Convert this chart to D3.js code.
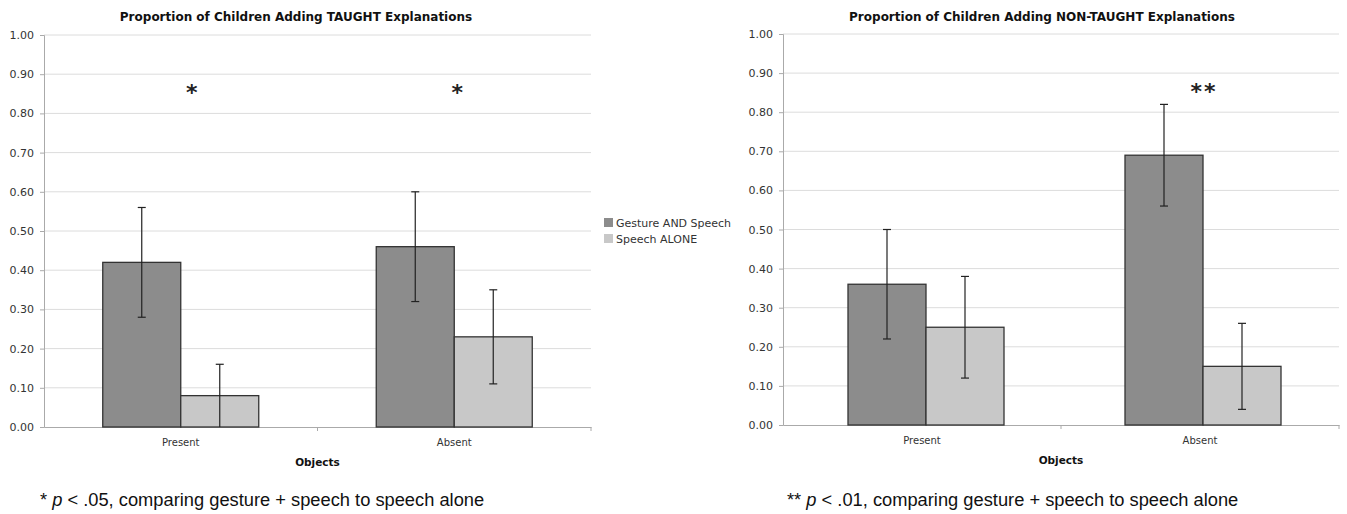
<!DOCTYPE html>
<html>
<head>
<meta charset="utf-8">
<script src="https://cdn.jsdelivr.net/npm/d3@7"></script>
<style>
  body { margin: 0; background: #fff; }
  svg { display: block; }
</style>
</head>
<body>
<svg id="chart" width="1347" height="514"></svg>
<script>
var categories = ["Present", "Absent"]
var seriesNames = ["Gesture AND Speech", "Speech ALONE"]
var seriesColors = ["#8c8c8c", "#c8c8c8"]
var yTicks = [0, 0.1, 0.2, 0.3, 0.4, 0.5, 0.6, 0.7, 0.8, 0.9, 1.0]

// taught explanations
var taughtGesture = [0.42, 0.46]
var taughtGestureErr = [0.14, 0.14]
var taughtSpeech = [0.08, 0.23]
var taughtSpeechErr = [0.08, 0.12]
var taughtStars = ["*", "*"]

// non-taught explanations
var nonTaughtGesture = [0.36, 0.69]
var nonTaughtGestureErr = [0.14, 0.13]
var nonTaughtSpeech = [0.25, 0.15]
var nonTaughtSpeechErr = [0.13, 0.11]
var nonTaughtStars = ["", "**"]

var svg = d3.select("#chart")

function drawPanel(opts) {
  var x = d3.scaleBand().domain(categories).range([opts.left, opts.right]).padding(0)
  var y = d3.scaleLinear().domain([0, 1]).range([opts.bottom, opts.top])
  var barW = 78
  var g = svg.append("g")

  // gridlines
  g.append("g").selectAll("line")
    .data(yTicks.slice(1))
    .enter().append("line")
    .attr("x1", opts.left).attr("x2", opts.right)
    .attr("y1", function(d) { return y(d) }).attr("y2", function(d) { return y(d) })
    .attr("stroke", "#dcdcdc")

  // y axis
  var yAxis = g.append("g")
    .attr("transform", "translate(" + opts.left + ",0)")
    .call(d3.axisLeft(y).tickValues(yTicks).tickFormat(d3.format(".2f")).tickSize(4).tickPadding(6))
  yAxis.select(".domain").attr("stroke", "#aaa")
  yAxis.selectAll(".tick line").attr("stroke", "#aaa")
  yAxis.selectAll("text").attr("fill", "#333").style("font-family", "DejaVu Sans").style("font-size", "11px")

  // x axis
  var xAxis = g.append("g")
    .attr("transform", "translate(0," + opts.bottom + ")")
    .call(d3.axisBottom(x).tickSize(0).tickPadding(12))
  xAxis.select(".domain").attr("stroke", "#aaa")
  xAxis.selectAll("text").attr("fill", "#333").style("font-family", "DejaVu Sans").style("font-size", "10px")
  g.append("g").selectAll("line")
    .data([opts.left + x.bandwidth(), opts.right])
    .enter().append("line")
    .attr("x1", function(d) { return d }).attr("x2", function(d) { return d })
    .attr("y1", opts.bottom).attr("y2", opts.bottom + 4)
    .attr("stroke", "#aaa")

  var series = [
    { values: opts.gesture, err: opts.gestureErr, color: seriesColors[0], off: -1 },
    { values: opts.speech, err: opts.speechErr, color: seriesColors[1], off: 0 }
  ]

  series.forEach(function(s) {
    var cx = function(i) { return x(categories[i]) + x.bandwidth() / 2 + s.off * barW + opts.barDx[i] }
    g.append("g").selectAll("rect")
      .data(s.values)
      .enter().append("rect")
      .attr("x", function(d, i) { return cx(i) })
      .attr("y", function(d) { return y(d) })
      .attr("width", barW)
      .attr("height", function(d) { return y(0) - y(d) })
      .attr("fill", s.color)
      .attr("stroke", "#333")
      .attr("stroke-width", 1.3)

    var eb = g.append("g").attr("stroke", "#222").attr("stroke-width", 1.2)
    s.values.forEach(function(v, i) {
      var mx = cx(i) + barW / 2
      var hi = v + s.err[i], lo = Math.max(0, v - s.err[i])
      eb.append("line").attr("x1", mx).attr("x2", mx).attr("y1", y(hi)).attr("y2", y(lo))
      eb.append("line").attr("x1", mx - 4).attr("x2", mx + 4).attr("y1", y(hi)).attr("y2", y(hi))
      if (v - s.err[i] > 0) {
        eb.append("line").attr("x1", mx - 4).attr("x2", mx + 4).attr("y1", y(lo)).attr("y2", y(lo))
      }
    })
  })

  // significance stars
  g.append("g").selectAll("text")
    .data(opts.stars)
    .enter().append("text")
    .attr("x", function(d, i) { return x(categories[i]) + x.bandwidth() / 2 + opts.starDx[i] })
    .attr("y", y(0.835))
    .attr("text-anchor", "middle")
    .style("font-family", "DejaVu Sans").style("font-weight", "bold")
    .style("font-size", "22px")
    .style("letter-spacing", "2px")
    .attr("fill", "#222")
    .text(function(d) { return d })

  // title
  g.append("text")
    .attr("x", opts.titleX).attr("y", 21)
    .attr("text-anchor", "middle")
    .style("font-family", "DejaVu Sans").style("font-weight", "bold").style("font-size", "12px")
    .attr("fill", "#111")
    .text(opts.title)

  g.append("text")
    .attr("x", opts.left + x.bandwidth()).attr("y", opts.bottom + 39)
    .attr("text-anchor", "middle")
    .style("font-family", "DejaVu Sans").style("font-weight", "bold").style("font-size", "10.5px")
    .attr("fill", "#111")
    .text("Objects")

  // footnote
  var fn = g.append("text")
    .attr("x", opts.noteX).attr("y", 506)
    .style("font-family", "Liberation Sans").style("font-size", "18.3px")
    .attr("fill", "#111")
  fn.append("tspan").text(opts.noteStars + " ")
  fn.append("tspan").style("font-style", "italic").text("p")
  fn.append("tspan").text(" < " + opts.noteP + ", comparing gesture + speech to speech alone")
}

drawPanel({
  left: 44, right: 591, top: 35, bottom: 427,
  gesture: taughtGesture, gestureErr: taughtGestureErr,
  speech: taughtSpeech, speechErr: taughtSpeechErr,
  stars: taughtStars, starDx: [12, 4], barDx: [0, 0],
  title: "Proportion of Children Adding TAUGHT Explanations", titleX: 296,
  noteX: 40, noteStars: "*", noteP: ".05"
})

drawPanel({
  left: 783, right: 1339, top: 34, bottom: 425,
  gesture: nonTaughtGesture, gestureErr: nonTaughtGestureErr,
  speech: nonTaughtSpeech, speechErr: nonTaughtSpeechErr,
  stars: nonTaughtStars, starDx: [0, 4], barDx: [4, 3],
  title: "Proportion of Children Adding NON-TAUGHT Explanations", titleX: 1042,
  noteX: 787, noteStars: "**", noteP: ".01"
})

// legend
var legend = svg.append("g").attr("transform", "translate(604,218)")
seriesNames.forEach(function(name, i) {
  legend.append("rect")
    .attr("x", 0).attr("y", i * 16)
    .attr("width", 9).attr("height", 9)
    .attr("fill", seriesColors[i])
  legend.append("text")
    .attr("x", 12).attr("y", i * 16 + 9)
    .style("font-family", "DejaVu Sans").style("font-size", "11px")
    .attr("fill", "#333")
    .text(name)
})
</script>
</body>
</html>
